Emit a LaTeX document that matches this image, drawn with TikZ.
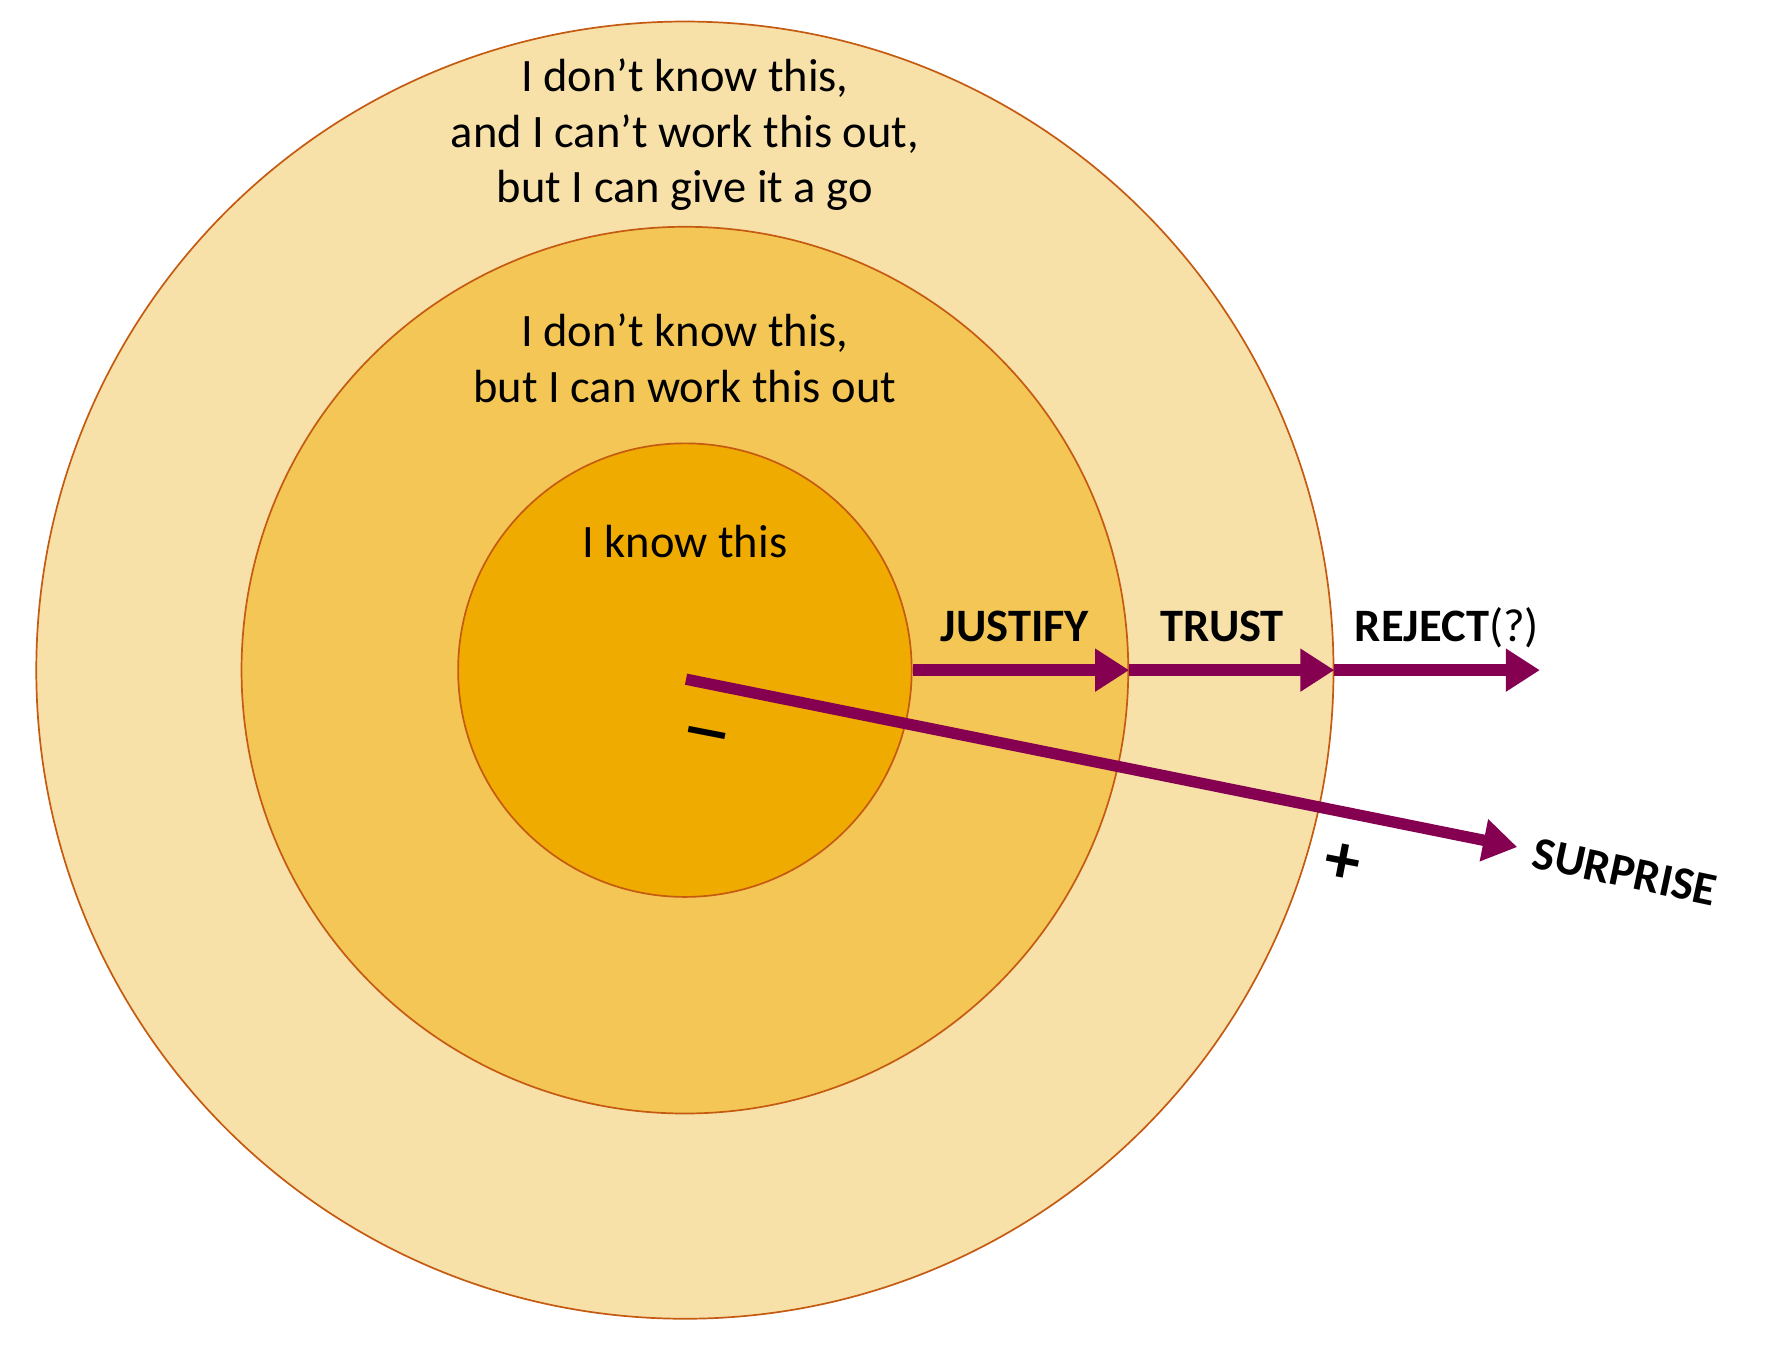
\documentclass[tikz,border=0pt]{standalone}
\usepackage{fontspec}
\setmainfont{Carlito}
\usetikzlibrary{arrows.meta}
\definecolor{ringouter}{HTML}{F8E1A9}
\definecolor{ringmiddle}{HTML}{F4C655}
\definecolor{ringinner}{HTML}{F0AB00}
\definecolor{ringline}{HTML}{C55A11}
\definecolor{plum}{HTML}{850050}
\begin{document}
\begin{tikzpicture}[x=1pt,y=1pt,
  ring/.style={circle, draw=ringline, line width=1.5pt, inner sep=0pt},
  ringtext/.style={font=\fontsize{41}{49}\selectfont, align=center},
  steptext/.style={font=\fontsize{41}{49}\selectfont\bfseries, anchor=base},
  signtext/.style={font=\fontsize{62}{62}\selectfont\bfseries, rotate=-11},
  steparrow/.style={draw=plum, line width=10pt, -{Triangle[length=30pt,width=36pt]}}]
\useasboundingbox (0,0) rectangle (1568,1191);
\coordinate (centre) at (604,600);
\node[ring, fill=ringouter, minimum size=1144pt] (unknown) at (centre) {};
\node[ring, fill=ringmiddle, minimum size=782pt] (workable) at (centre) {};
\node[ring, fill=ringinner, minimum size=400pt] (known) at (centre) {};

\node[ringtext] (unknowntext) at (604,1072) {I don’t know this,\\and I can’t work this out,\\but I can give it a go};
\node[ringtext] (workabletext) at (604,875) {I don’t know this,\\but I can work this out};
\node[ringtext] (knowntext) at (604,713) {I know this};

\node[steptext] (justify) at (895,625) {JUSTIFY};
\node[steptext] (trust) at (1078,625) {TRUST};
\node[steptext] (reject) at (1276,625) {REJECT\mdseries(?)};
\node[steptext, anchor=center, rotate=-12] (surprise) at (1433,422) {SURPRISE};
\node[signtext, xscale=1.5] (minus) at (622,537) {–};
\node[signtext] (plus) at (1184,429) {+};

\coordinate (start) at (605,592);
\coordinate (rejectend) at (1358,600);
\coordinate (surpriseend) at (1338,444);
\draw[steparrow] (known.east) -- (workable.east);
\draw[steparrow] (workable.east) -- (unknown.east);
\draw[steparrow] (unknown.east) -- (rejectend);
\draw[steparrow] (start) -- (surpriseend);
\end{tikzpicture}
\end{document}
